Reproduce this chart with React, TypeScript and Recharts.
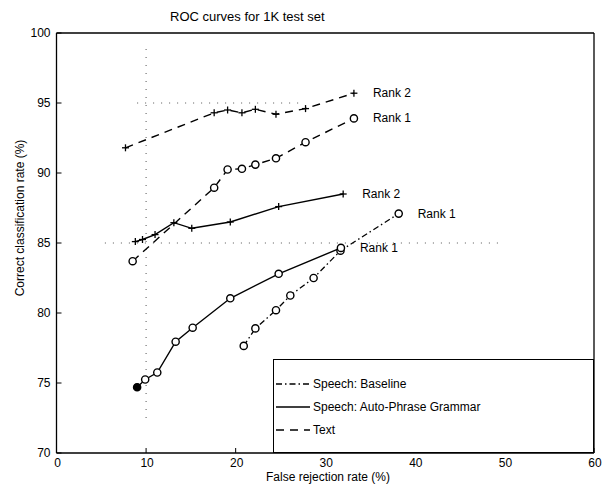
import {
  LineChart,
  Line,
  XAxis,
  YAxis,
  ReferenceLine,
  Legend,
} from "recharts";

// [false rejection %, correct classification %]
const textRank2 = [
  [7.7, 91.8], [17.6, 94.3], [19.1, 94.5], [20.7, 94.3],
  [22.2, 94.55], [24.5, 94.2], [27.8, 94.6], [33.2, 95.7],
];
const textRank1 = [
  [8.5, 83.7], [17.6, 88.95], [19.1, 90.25], [20.7, 90.3],
  [22.2, 90.6], [24.5, 91.05], [27.8, 92.2], [33.2, 93.9],
];
const autoRank2 = [
  [8.8, 85.1], [9.6, 85.25], [11.0, 85.6], [13.1, 86.45],
  [15.1, 86.05], [19.4, 86.5], [24.8, 87.6], [32.0, 88.5],
];
const autoRank1 = [
  [9.0, 74.7], [9.9, 75.25], [11.25, 75.75], [13.3, 77.95],
  [15.2, 78.95], [19.4, 81.05], [24.8, 82.8], [31.75, 84.65],
];
const baselineRank1 = [
  [20.9, 77.65], [22.2, 78.9], [24.5, 80.2], [26.1, 81.25],
  [28.7, 82.5], [31.7, 84.45], [38.2, 87.1],
];

const xTicks = [0, 10, 20, 30, 40, 50, 60];
const yTicks = [70, 75, 80, 85, 90, 95, 100];

// faint dotted grid fragments left over in the scan
const gridBits = [
  [[9, 95], [27.5, 95]],
  [[5.4, 85], [50, 85]],
  [[10, 72.5], [10, 99]],
];

const toPts = (arr: number[][]) => arr.map(([x, y]) => ({ x, y }));

const FONT = '"Liberation Sans", Arial, Helvetica, sans-serif';
const DASH_TEXT = "8 6";
const DASH_BASE = "6 3 1.5 3";

const plus = (p: any) => (
  <g key={`p${p.index}`}>
    <line x1={p.cx - 3.5} y1={p.cy} x2={p.cx + 3.5} y2={p.cy} stroke="#000" strokeWidth={1.3} />
    <line x1={p.cx} y1={p.cy - 3.5} x2={p.cx} y2={p.cy + 3.5} stroke="#000" strokeWidth={1.3} />
  </g>
);

const circle = (filledFirst: boolean) => (p: any) => (
  <circle
    key={`c${p.index}`}
    cx={p.cx}
    cy={p.cy}
    r={3.6}
    fill={filledFirst && p.index === 0 ? "#000" : "#fff"}
    stroke="#000"
    strokeWidth={1.4}
  />
);

const rankLabel = (text: string, last: number) => (p: any) =>
  p.index === last ? (
    <text key="lbl" x={p.x + 19} y={p.y + 4} fontSize={12} fontFamily={FONT} fill="#000">
      {text}
    </text>
  ) : null;

const XTick = ({ x, y, payload }: any) => (
  <g>
    <line x1={x} y1={y} x2={x} y2={y - 5} stroke="#000" />
    <text x={x + 1} y={y + 14} textAnchor="middle" fontSize={12} fontFamily={FONT} fill="#000">
      {payload.value}
    </text>
  </g>
);

const YTick = ({ x, y, payload }: any) => (
  <g>
    <line x1={x} y1={y} x2={x + 5} y2={y} stroke="#000" />
    <text x={x - 6} y={y + 4} textAnchor="end" fontSize={12} fontFamily={FONT} fill="#000">
      {payload.value}
    </text>
  </g>
);

const TopTick = ({ x, y }: any) => (
  <line x1={x} y1={y + 1} x2={x} y2={y + 6} stroke="#000" />
);

const RightTick = ({ x, y }: any) => (
  <line x1={x - 1} y1={y} x2={x - 6} y2={y} stroke="#000" />
);

const legendRows = [
  { name: "Speech: Baseline", dash: DASH_BASE },
  { name: "Speech: Auto-Phrase Grammar", dash: undefined },
  { name: "Text", dash: DASH_TEXT },
];

const LegendBox = () => (
  <div
    style={{
      boxSizing: "border-box",
      width: 321,
      height: 94,
      border: "1.5px solid #000",
      background: "#fff",
      position: "relative",
      fontFamily: FONT,
      fontSize: 12,
    }}
  >
    {legendRows.map((r, i) => (
      <div key={r.name} style={{ position: "absolute", left: 2, top: 16 + i * 23, height: 16, display: "flex", alignItems: "center" }}>
        <svg width={34} height={10}>
          <line x1={0} y1={5} x2={34} y2={5} stroke="#000" strokeWidth={1.3} strokeDasharray={r.dash} />
        </svg>
        <span style={{ marginLeft: 3, color: "#000" }}>{r.name}</span>
      </div>
    ))}
  </div>
);

export default function App() {
  return (
    <div style={{ position: "absolute", left: 0, top: 0, width: 604, height: 488, background: "#fff" }}>
      <LineChart width={604} height={488} margin={{ top: 32, right: 9, bottom: 0, left: 0 }}>
        <XAxis
          type="number"
          dataKey="x"
          domain={[0, 60]}
          ticks={xTicks}
          height={35}
          tickSize={0}
          tickMargin={0}
          tickLine={false}
          tick={<XTick />}
          axisLine={{ stroke: "#000", strokeWidth: 1.3 }}
        />
        <XAxis
          xAxisId="top"
          orientation="top"
          type="number"
          domain={[0, 60]}
          ticks={xTicks}
          height={1}
          tickSize={0}
          tickMargin={0}
          tickLine={false}
          tick={<TopTick />}
          axisLine={false}
        />
        <YAxis
          type="number"
          domain={[70, 100]}
          ticks={yTicks}
          width={56.5}
          tickSize={0}
          tickMargin={0}
          tickLine={false}
          tick={<YTick />}
          axisLine={{ stroke: "#000", strokeWidth: 1.3 }}
        />
        <YAxis
          yAxisId="right"
          orientation="right"
          type="number"
          domain={[70, 100]}
          ticks={yTicks}
          width={1}
          tickSize={0}
          tickMargin={0}
          tickLine={false}
          tick={<RightTick />}
          axisLine={false}
        />
        <ReferenceLine y={100} stroke="#000" strokeWidth={1.3} />
        <ReferenceLine x={60} stroke="#000" strokeWidth={1.3} />
        {gridBits.map(([a, b], i) => (
          <ReferenceLine
            key={i}
            segment={[{ x: a[0], y: a[1] }, { x: b[0], y: b[1] }]}
            stroke="#555"
            strokeDasharray="1 7"
          />
        ))}
        <Line
          data={toPts(textRank2)}
          dataKey="y"
          stroke="#000"
          strokeWidth={1.4}
          strokeDasharray={DASH_TEXT}
          dot={plus}
          label={rankLabel("Rank 2", textRank2.length - 1)}
          isAnimationActive={false}
        />
        <Line
          data={toPts(textRank1)}
          dataKey="y"
          stroke="#000"
          strokeWidth={1.4}
          strokeDasharray={DASH_TEXT}
          dot={circle(false)}
          label={rankLabel("Rank 1", textRank1.length - 1)}
          isAnimationActive={false}
        />
        <Line
          data={toPts(autoRank2)}
          dataKey="y"
          stroke="#000"
          strokeWidth={1.4}
          dot={plus}
          label={rankLabel("Rank 2", autoRank2.length - 1)}
          isAnimationActive={false}
        />
        <Line
          data={toPts(baselineRank1)}
          dataKey="y"
          stroke="#000"
          strokeWidth={1.3}
          strokeDasharray={DASH_BASE}
          dot={circle(false)}
          label={rankLabel("Rank 1", baselineRank1.length - 1)}
          isAnimationActive={false}
        />
        <Line
          data={toPts(autoRank1)}
          dataKey="y"
          stroke="#000"
          strokeWidth={1.4}
          dot={circle(true)}
          label={rankLabel("Rank 1", autoRank1.length - 1)}
          isAnimationActive={false}
        />
        <Legend
          layout="vertical"
          align="center"
          verticalAlign="middle"
          content={<LegendBox />}
          wrapperStyle={{ position: "absolute", left: 273, top: 359, width: 321, height: 94 }}
        />
      </LineChart>
      <div
        style={{
          position: "absolute",
          left: 170,
          top: 9,
          fontFamily: FONT,
          fontSize: 13,
          lineHeight: "15px",
          color: "#000",
          whiteSpace: "nowrap",
        }}
      >
        ROC curves for 1K test set
      </div>
      <div
        style={{
          position: "absolute",
          left: 0,
          width: 656,
          top: 470,
          textAlign: "center",
          fontFamily: FONT,
          fontSize: 12,
          lineHeight: "14px",
          color: "#000",
        }}
      >
        False rejection rate (%)
      </div>
      <div
        style={{
          position: "absolute",
          left: -80,
          top: 211,
          width: 200,
          height: 14,
          textAlign: "center",
          transform: "rotate(-90deg)",
          fontFamily: FONT,
          fontSize: 12,
          lineHeight: "14px",
          color: "#000",
          whiteSpace: "nowrap",
        }}
      >
        Correct classification rate (%)
      </div>
    </div>
  );
}
